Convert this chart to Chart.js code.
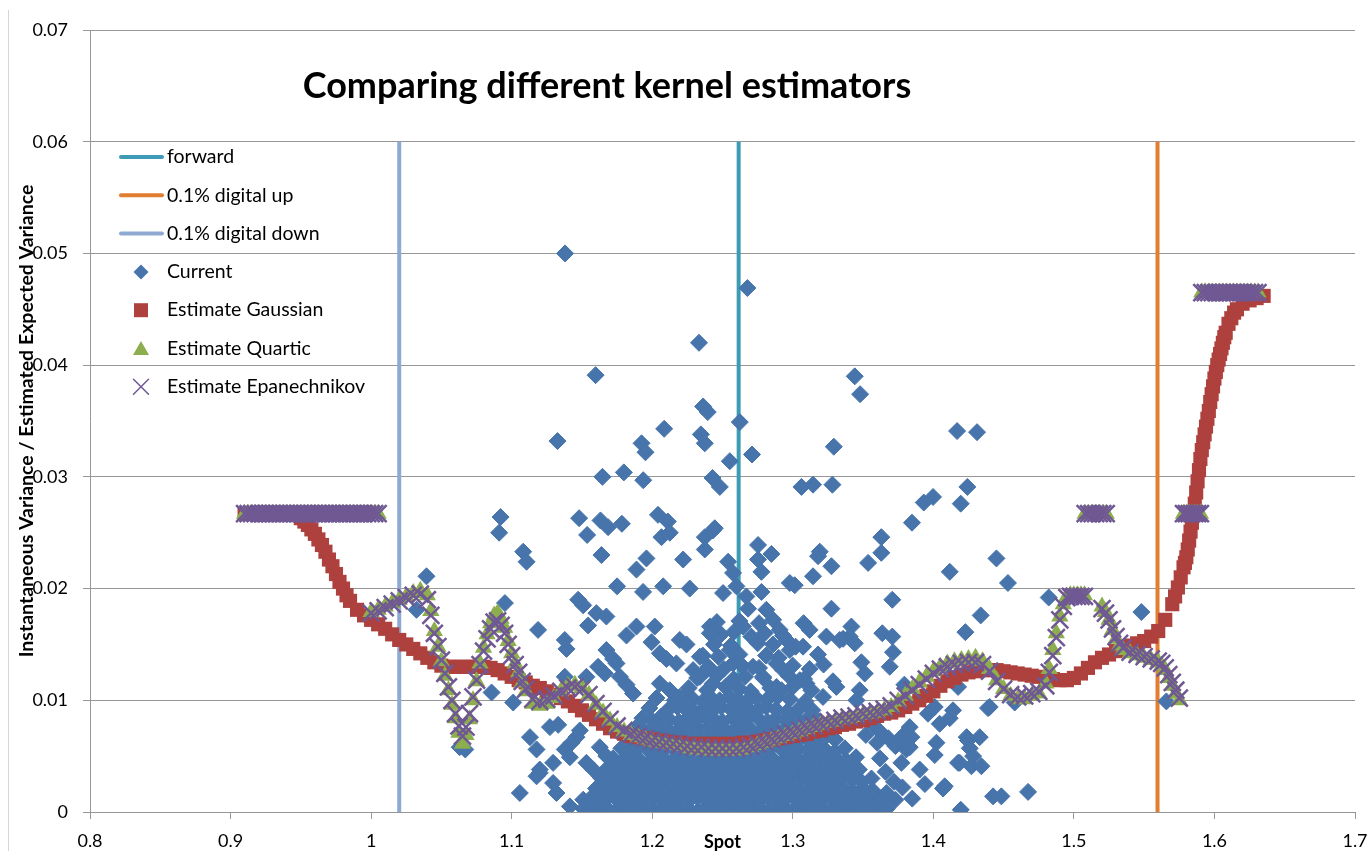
<!DOCTYPE html>
<html>
<head>
<meta charset="utf-8">
<title>Comparing different kernel estimators</title>
<script src="https://cdn.jsdelivr.net/npm/chart.js@4.4.1/dist/chart.umd.min.js"></script>
<style>
  html, body { margin: 0; padding: 0; background: #fff; overflow: hidden; }
  #wrap { width: 1371px; height: 851px; overflow: hidden; }
  canvas { display: block; }
</style>
</head>
<body>
<div id="wrap"><canvas id="chart" width="1371" height="880"></canvas></div>
<script>
/* ===== Data ===== */

const chartTitle = 'Comparing different kernel estimators';
const xTickLabels = ['0.8', '0.9', '1', '1.1', '1.2', '1.3', '1.4', '1.5', '1.6', '1.7'];
const yTickLabels = ['0', '0.01', '0.02', '0.03', '0.04', '0.05', '0.06', '0.07'];

// vertical markers
const forwardX = 1.2615;
const digitalUpX = 1.5595;
const digitalDownX = 1.0200;
const markerTop = 0.06;

// "Current" scatter: [spot, variance ratio]
const currentPoints = [
  // dense cloud, bottom rows
  [1.151,.0003],[1.157,.0001],[1.163,.0004],[1.169,.0002],[1.176,.0003],[1.182,.0001],[1.188,.0004],[1.195,.0002],[1.201,.0003],[1.207,.0001],[1.214,.0004],[1.220,.0002],[1.226,.0003],[1.233,.0001],[1.239,.0004],[1.245,.0002],[1.252,.0003],[1.258,.0001],[1.264,.0004],[1.271,.0002],[1.277,.0003],[1.283,.0001],[1.290,.0004],[1.296,.0002],[1.302,.0003],[1.309,.0001],[1.315,.0004],[1.321,.0002],[1.328,.0003],[1.334,.0001],[1.340,.0004],[1.347,.0002],[1.353,.0003],[1.360,.0001],[1.367,.0003],
  [1.156,.0012],[1.162,.0010],[1.168,.0013],[1.175,.0011],[1.181,.0009],[1.188,.0012],[1.194,.0010],[1.200,.0013],[1.207,.0011],[1.213,.0009],[1.219,.0012],[1.226,.0010],[1.232,.0013],[1.238,.0011],[1.245,.0009],[1.251,.0012],[1.257,.0010],[1.264,.0013],[1.270,.0011],[1.276,.0009],[1.283,.0012],[1.289,.0010],[1.295,.0013],[1.302,.0011],[1.308,.0009],[1.314,.0012],[1.321,.0010],[1.327,.0013],[1.333,.0011],[1.340,.0009],[1.346,.0012],[1.352,.0010],[1.359,.0013],[1.373,.0011],
  [1.160,.0021],[1.166,.0019],[1.172,.0022],[1.179,.0020],[1.185,.0018],[1.191,.0021],[1.198,.0019],[1.204,.0022],[1.210,.0020],[1.217,.0018],[1.223,.0021],[1.229,.0019],[1.236,.0022],[1.242,.0020],[1.248,.0018],[1.255,.0021],[1.261,.0019],[1.267,.0022],[1.274,.0020],[1.280,.0018],[1.286,.0021],[1.293,.0019],[1.299,.0022],[1.305,.0020],[1.312,.0018],[1.318,.0021],[1.324,.0019],[1.331,.0022],[1.337,.0020],[1.343,.0018],[1.350,.0021],[1.357,.0019],[1.378,.0022],
  [1.164,.0030],[1.171,.0028],[1.177,.0031],[1.183,.0029],[1.190,.0027],[1.196,.0030],[1.202,.0028],[1.209,.0031],[1.215,.0029],[1.221,.0027],[1.228,.0030],[1.234,.0028],[1.240,.0031],[1.247,.0029],[1.253,.0027],[1.259,.0030],[1.266,.0028],[1.272,.0031],[1.278,.0029],[1.285,.0027],[1.291,.0030],[1.297,.0028],[1.304,.0031],[1.310,.0029],[1.316,.0027],[1.323,.0030],[1.329,.0028],[1.335,.0031],[1.342,.0029],[1.349,.0027],[1.356,.0030],
  [1.168,.0039],[1.175,.0037],[1.181,.0040],[1.187,.0038],[1.194,.0036],[1.200,.0039],[1.206,.0037],[1.213,.0040],[1.219,.0038],[1.225,.0036],[1.232,.0039],[1.238,.0037],[1.244,.0040],[1.251,.0038],[1.257,.0036],[1.263,.0039],[1.270,.0037],[1.276,.0040],[1.282,.0038],[1.289,.0036],[1.295,.0039],[1.301,.0037],[1.308,.0040],[1.314,.0038],[1.320,.0036],[1.327,.0039],[1.333,.0037],[1.340,.0040],[1.347,.0038],
  [1.172,.0048],[1.179,.0046],[1.185,.0049],[1.191,.0047],[1.198,.0045],[1.204,.0048],[1.210,.0046],[1.217,.0049],[1.223,.0047],[1.229,.0045],[1.236,.0048],[1.242,.0046],[1.248,.0049],[1.255,.0047],[1.261,.0045],[1.267,.0048],[1.274,.0046],[1.280,.0049],[1.286,.0047],[1.293,.0045],[1.299,.0048],[1.305,.0046],[1.312,.0049],[1.318,.0047],[1.325,.0045],[1.331,.0048],[1.338,.0046],[1.345,.0049],
  [1.178,.0057],[1.184,.0055],[1.190,.0058],[1.197,.0056],[1.203,.0054],[1.209,.0057],[1.216,.0055],[1.222,.0058],[1.228,.0056],[1.235,.0054],[1.241,.0057],[1.247,.0055],[1.254,.0058],[1.260,.0056],[1.266,.0054],[1.273,.0057],[1.279,.0055],[1.285,.0058],[1.292,.0056],[1.298,.0054],[1.304,.0057],[1.311,.0055],[1.317,.0058],[1.323,.0056],[1.330,.0054],[1.337,.0057],
  [1.183,.0066],[1.189,.0064],[1.196,.0067],[1.202,.0065],[1.208,.0063],[1.215,.0066],[1.221,.0064],[1.227,.0067],[1.234,.0065],[1.240,.0063],[1.246,.0066],[1.253,.0064],[1.259,.0067],[1.265,.0065],[1.272,.0063],[1.278,.0066],[1.284,.0064],[1.291,.0067],[1.297,.0065],[1.303,.0063],[1.310,.0066],[1.316,.0064],[1.323,.0067],[1.330,.0065],
  [1.188,.0075],[1.194,.0073],[1.201,.0076],[1.207,.0074],[1.213,.0072],[1.220,.0075],[1.226,.0073],[1.232,.0076],[1.239,.0074],[1.245,.0072],[1.251,.0075],[1.258,.0073],[1.264,.0076],[1.270,.0074],[1.277,.0072],[1.283,.0075],[1.289,.0073],[1.296,.0076],[1.302,.0074],[1.309,.0072],[1.316,.0075],[1.324,.0073],
  [1.193,.0084],[1.200,.0082],[1.206,.0085],[1.212,.0083],[1.219,.0081],[1.225,.0084],[1.231,.0082],[1.238,.0085],[1.244,.0083],[1.250,.0081],[1.257,.0084],[1.263,.0082],[1.269,.0085],[1.276,.0083],[1.282,.0081],[1.288,.0084],[1.295,.0082],[1.302,.0085],[1.310,.0083],[1.318,.0081],
  [1.198,.0093],[1.211,.0091],[1.218,.0094],[1.224,.0092],[1.230,.0090],[1.237,.0093],[1.243,.0091],[1.249,.0094],[1.256,.0092],[1.262,.0090],[1.268,.0093],[1.275,.0091],[1.281,.0094],[1.288,.0092],[1.296,.0090],[1.305,.0093],[1.314,.0091],
  [1.203,.0102],[1.216,.0100],[1.223,.0103],[1.229,.0101],[1.236,.0099],[1.242,.0102],[1.248,.0100],[1.255,.0103],[1.261,.0101],[1.267,.0099],[1.274,.0102],[1.281,.0100],[1.289,.0103],[1.298,.0101],[1.309,.0099],
  // upper part of the cloud
  [1.226,.0111],[1.239,.0109],[1.252,.0112],[1.262,.0110],[1.270,.0108],[1.284,.0111],[1.292,.0109],[1.300,.0112],
  [1.232,.0120],[1.246,.0122],[1.258,.0119],[1.266,.0121],[1.279,.0120],[1.297,.0122],[1.308,.0119],
  [1.240,.0130],[1.251,.0128],[1.264,.0131],[1.276,.0129],[1.300,.0131],[1.312,.0128],
  [1.236,.0140],[1.247,.0139],[1.262,.0141],[1.281,.0140],[1.290,.0138],[1.318,.0141],
  [1.244,.0150],[1.256,.0149],[1.275,.0151],[1.286,.0150],[1.302,.0148],
  [1.249,.0159],[1.258,.0161],[1.280,.0160],[1.293,.0158],
  [1.246,.0170],[1.262,.0171],[1.276,.0169],
  [1.357,.0078],[1.362,.0072],[1.368,.0066],[1.373,.0059],[1.378,.0068],[1.360,.0062],[1.352,.0069],
  [1.372,.0027],[1.385,.0012],[1.394,.0025],[1.362,.0048],[1.366,.0036],
  // scattered points
  [1.1380,.0500],[1.2677,.0469],[1.2333,.0420],[1.1597,.0391],[1.3441,.0390],[1.3479,.0374],[1.2362,.0363],[1.2395,.0358],
  [1.2623,.0349],[1.2085,.0343],[1.4169,.0341],[1.4311,.0340],[1.2346,.0338],[1.1326,.0332],[1.1924,.0330],[1.2374,.0330],
  [1.3292,.0327],[1.1952,.0322],[1.2710,.0320],[1.2552,.0314],[1.1798,.0304],[1.1646,.0300],[1.2429,.0299],[1.1936,.0297],
  [1.3144,.0293],[1.3282,.0293],[1.3062,.0291],[1.2481,.0291],[1.4242,.0291],[1.3998,.0282],[1.3932,.0277],[1.4195,.0276],
  [1.2041,.0266],[1.0921,.0264],[1.1480,.0263],[1.1632,.0261],[1.2111,.0260],[1.3848,.0259],[1.1784,.0258],[1.1686,.0255],
  [1.2445,.0254],[1.2125,.0250],[1.0911,.0250],[1.1537,.0248],[1.2066,.0246],[1.2374,.0246],[1.3630,.0246],[1.2431,.0252],
  [1.2753,.0239],[1.2374,.0235],[1.1082,.0233],[1.3630,.0232],[1.3192,.0233],[1.2848,.0231],[1.1639,.0230],[1.3180,.0229],
  [1.1959,.0227],[1.4449,.0227],[1.2220,.0226],[1.2753,.0226],[1.1106,.0224],[1.2540,.0224],[1.3536,.0223],[1.3275,.0220],
  [1.1888,.0217],[1.4117,.0215],[1.2777,.0215],[1.2575,.0214],[1.3144,.0211],[1.0394,.0211],[1.2979,.0205],[1.3014,.0203],
  [1.4531,.0205],[1.1750,.0202],[1.2078,.0202],[1.2599,.0202],[1.2267,.0200],[1.1935,.0197],[1.2777,.0197],[1.2504,.0196],
  [1.2670,.0193],[1.4821,.0192],[1.3708,.0190],[1.1473,.0190],[1.0952,.0187],[1.1509,.0185],[1.2682,.0182],[1.3275,.0182],
  [1.2812,.0181],[1.0323,.0181],[1.5480,.0179],[1.1603,.0178],[1.4337,.0176],[1.1674,.0175],[1.2860,.0172],[1.3077,.0169],
  [1.1544,.0167],[1.1888,.0166],[1.2018,.0166],[1.2410,.0166],[1.2646,.0166],[1.3417,.0166],[1.1188,.0163],[1.2907,.0163],
  [1.3120,.0163],[1.4228,.0161],[1.3637,.0160],[1.2410,.0160],[1.1817,.0158],[1.2705,.0157],[1.3239,.0157],[1.3405,.0157],
  [1.3708,.0157],[1.3358,.0155],[1.1378,.0154],[1.2196,.0154],[1.2955,.0154],[1.3334,.0154],[1.1995,.0152],[1.3441,.0151],
  [1.2244,.0150],[1.3073,.0148],[1.1390,.0146],[1.1674,.0145],[1.2552,.0145],[1.2979,.0145],[1.2054,.0142],[1.3713,.0143],
  [1.2339,.0139],[1.1722,.0137],[1.2101,.0137],[1.3488,.0134],[1.1746,.0133],[1.2172,.0133],[1.2575,.0133],[1.2884,.0133],
  [1.3219,.0132],[1.1615,.0130],[1.2717,.0130],[1.3690,.0130],[1.2386,.0127],[1.2291,.0127],[1.2931,.0127],[1.1663,.0124],
  [1.3512,.0124],[1.1378,.0121],[1.1532,.0121],[1.1770,.0121],[1.2339,.0121],[1.2788,.0121],[1.3050,.0118],[1.3286,.0117],
  [1.2054,.0115],[1.2431,.0115],[1.3097,.0115],[1.1817,.0114],[1.3794,.0114],[1.3310,.0112],[1.2884,.0112],[1.4176,.0112],
  [1.2125,.0109],[1.3132,.0109],[1.3476,.0109],[1.0857,.0107],[1.1864,.0106],[1.2196,.0103],[1.3215,.0103],[1.3453,.0100],
  [1.1011,.0098],[1.4579,.0098],[1.4010,.0094],[1.4401,.0094],[1.4140,.0091],[1.4389,.0093],[1.3962,.0088],[1.4117,.0084],
  [1.4045,.0079],[1.3832,.0076],[1.1272,.0076],[1.1331,.0078],[1.1485,.0073],[1.1130,.0067],[1.1461,.0067],[1.3844,.0067],
  [1.4237,.0067],[1.4330,.0067],[1.1426,.0062],[1.4022,.0062],[1.4247,.0064],[1.0630,.0058],[1.0670,.0056],[1.1177,.0056],
  [1.1378,.0056],[1.1627,.0058],[1.3808,.0056],[1.3832,.0058],[1.4259,.0057],[1.4010,.0051],[1.1674,.0050],[1.4283,.0050],
  [1.1414,.0049],[1.1295,.0044],[1.1532,.0044],[1.3773,.0044],[1.4176,.0044],[1.4188,.0044],[1.4271,.0041],[1.4342,.0041],
  [1.1200,.0038],[1.1580,.0038],[1.3903,.0038],[1.1200,.0035],[1.1177,.0032],[1.1627,.0032],[1.1295,.0026],[1.4069,.0021],
  [1.4081,.0023],[1.1058,.0017],[1.1319,.0017],[1.3666,.0017],[1.4674,.0018],[1.4425,.0014],[1.4484,.0014],[1.1509,.0011],
  [1.3630,.0011],[1.1414,.0005],[1.1580,.0005],[1.3548,.0005],[1.4195,.0002],[1.5658,.0099]
];

// Gaussian kernel estimate: [spot, value]
const gaussianPoints = [
  [0.910,.0267],[0.915,.0267],[0.920,.0267],[0.925,.0267],[0.930,.0267],[0.935,.0267],[0.940,.0267],[0.945,.0266],
  [0.950,.0263],[0.9525,.0260],[0.955,.0257],[0.9575,.0253],[0.960,.0249],[0.9625,.0244],[0.965,.0239],[0.9675,.0233],
  [0.970,.0226],[0.9725,.0220],[0.975,.0213],[0.9775,.0206],[0.980,.0200],[0.9825,.0194],[0.985,.0189],[0.990,.0181],
  [0.995,.0176],[1.000,.0172],[1.005,.0168],[1.010,.0164],[1.015,.0159],[1.020,.0154],[1.025,.0150],[1.030,.0146],
  [1.035,.0142],[1.040,.0138],[1.045,.0134],[1.050,.0131],[1.055,.0130],[1.060,.0130],[1.065,.0130],[1.070,.0130],
  [1.075,.0130],[1.080,.0130],[1.085,.0129],[1.090,.0127],[1.095,.0124],[1.100,.0121],[1.105,.0118],[1.110,.0116],
  [1.115,.0113],[1.120,.0111],[1.125,.0108],[1.130,.0105],[1.135,.0102],[1.140,.0099],[1.145,.0095],[1.150,.0091],
  [1.155,.0087],[1.160,.0083],[1.165,.0079],[1.170,.0075],[1.175,.0072],[1.180,.0070],[1.185,.0068],[1.190,.0067],
  [1.195,.0066],[1.200,.0065],[1.205,.0064],[1.210,.0063],[1.215,.0062],[1.220,.0062],[1.225,.0061],[1.230,.0061],
  [1.235,.0061],[1.240,.0061],[1.245,.0061],[1.250,.0061],[1.255,.0061],[1.260,.0061],[1.265,.0062],[1.270,.0062],
  [1.275,.0063],[1.280,.0064],[1.285,.0065],[1.290,.0066],[1.295,.0067],[1.300,.0068],[1.305,.0069],[1.310,.0070],
  [1.315,.0072],[1.320,.0073],[1.325,.0075],[1.330,.0076],[1.335,.0078],[1.340,.0079],[1.345,.0081],[1.350,.0082],
  [1.355,.0084],[1.360,.0086],[1.365,.0088],[1.370,.0089],[1.375,.0091],[1.380,.0094],[1.385,.0097],[1.390,.0100],
  [1.395,.0104],[1.400,.0108],[1.405,.0113],[1.410,.0117],[1.415,.0120],[1.420,.0123],[1.425,.0125],[1.430,.0126],
  [1.435,.0127],[1.440,.0127],[1.445,.0127],[1.450,.0126],[1.455,.0125],[1.460,.0124],[1.465,.0123],[1.470,.0122],
  [1.475,.0121],[1.480,.0120],[1.485,.0119],[1.490,.0118],[1.495,.0118],[1.500,.0120],[1.505,.0124],[1.510,.0129],
  [1.515,.0134],[1.520,.0138],[1.525,.0141],[1.530,.0144],[1.535,.0146],[1.540,.0149],[1.545,.0151],[1.550,.0153],
  [1.555,.0157],[1.560,.0162],[1.565,.0172],[1.570,.0186],[1.572,.0193],[1.574,.0201],[1.576,.0210],[1.578,.0219],
  [1.579,.0223],[1.580,.0228],[1.581,.0235],[1.582,.0243],[1.583,.0251],[1.584,.0259],[1.585,.0267],[1.586,.0276],
  [1.587,.0286],[1.588,.0296],[1.589,.0306],[1.590,.0316],[1.591,.0324],[1.592,.0331],[1.593,.0338],[1.594,.0345],
  [1.595,.0352],[1.596,.0359],[1.597,.0367],[1.598,.0374],[1.599,.0381],[1.600,.0388],[1.601,.0394],[1.602,.0400],
  [1.603,.0405],[1.604,.0410],[1.605,.0415],[1.606,.0420],[1.607,.0425],[1.608,.0429],[1.610,.0437],[1.612,.0442],
  [1.614,.0447],[1.616,.0450],[1.620,.0455],[1.625,.0458],[1.630,.0460],[1.635,.0462]
];

// Quartic and Epanechnikov estimates share the same spot grid
const kernelX = [
  0.9100,0.9125,0.9150,0.9175,0.9200,0.9225,0.9250,0.9275,0.9300,0.9325,0.9350,0.9375,0.9400,0.9425,0.9450,0.9475,0.9500,
  0.9525,0.9550,0.9575,0.9600,0.9625,0.9650,0.9675,0.9700,0.9725,0.9750,0.9775,0.9800,0.9825,0.9850,0.9875,0.9900,
  0.9925,0.9950,0.9975,1.0000,1.0025,1.0050,
  1.000,1.005,1.010,1.015,1.020,1.025,1.030,1.035,
  1.0400,1.0425,1.0450,1.0475,1.0500,1.0525,1.0550,1.0575,1.0600,1.0625,1.0650,1.0675,1.0700,1.0725,1.0750,
  1.0775,1.0800,1.0825,1.0850,1.0875,1.0900,1.0925,1.0950,1.0975,1.1000,1.1025,1.1050,1.1075,1.1100,
  1.115,1.120,1.125,1.130,1.135,1.140,1.145,1.150,1.155,1.160,
  1.165,1.170,1.175,1.180,1.185,1.190,1.195,1.200,1.205,1.210,
  1.215,1.220,1.225,1.230,1.235,1.240,1.245,1.250,1.255,1.260,
  1.265,1.270,1.275,1.280,1.285,1.290,1.295,1.300,1.305,1.310,
  1.315,1.320,1.325,1.330,1.335,1.340,1.345,1.350,1.355,1.360,
  1.365,1.370,1.375,1.380,1.385,1.390,1.395,1.400,1.405,1.410,
  1.415,1.420,1.425,1.430,1.435,1.440,1.445,1.450,1.455,1.460,
  1.465,1.470,1.475,
  1.4800,1.4825,1.4850,1.4875,1.4900,1.4925,1.4950,1.4975,1.5000,1.5025,1.5050,1.5075,
  1.5080,1.5105,1.5130,1.5155,1.5180,1.5205,1.5230,
  1.5200,1.5225,1.5250,1.5275,1.5300,1.5325,1.5350,1.5400,1.5450,1.5500,1.5550,1.5600,1.5625,1.5650,1.5675,1.5700,1.5725,1.5750,
  1.5780,1.5800,1.5820,1.5840,1.5860,1.5880,1.5900,
  1.5910,1.5935,1.5960,1.5985,1.6010,1.6035,1.6060,1.6085,1.6110,1.6135,1.6160,1.6185,1.6210,1.6235,1.6260,1.6285,1.6310
];
const quarticY = [
  .0267,.0267,.0267,.0267,.0267,.0267,.0267,.0267,.0267,.0267,.0267,.0267,.0267,.0267,.0267,.0267,.0267,
  .0267,.0267,.0267,.0267,.0267,.0267,.0267,.0267,.0267,.0267,.0267,.0267,.0267,.0267,.0267,.0267,
  .0267,.0267,.0267,.0267,.0267,.0267,
  .0179,.0181,.0184,.0187,.0190,.0193,.0196,.0198,
  .0194,.0180,.0162,.0148,.0135,.0122,.0109,.0096,.0084,.0071,.0061,.0069,.0083,.0100,.0117,
  .0133,.0147,.0159,.0169,.0176,.0178,.0173,.0165,.0153,.0142,.0133,.0125,.0116,.0108,
  .0097,.0095,.0097,.0102,.0108,.0113,.0114,.0111,.0105,.0096,
  .0089,.0082,.0076,.0072,.0069,.0067,.0065,.0063,.0062,.0061,
  .0060,.0059,.0057,.0056,.0056,.0055,.0055,.0055,.0055,.0055,
  .0056,.0058,.0060,.0062,.0064,.0066,.0068,.0070,.0072,.0074,
  .0076,.0078,.0080,.0081,.0083,.0084,.0085,.0087,.0088,.0089,
  .0091,.0094,.0099,.0104,.0110,.0116,.0121,.0126,.0130,.0133,
  .0135,.0136,.0137,.0138,.0135,.0128,.0118,.0110,.0104,.0101,
  .0101,.0104,.0106,
  .0115,.0128,.0145,.0160,.0175,.0186,.0193,.0194,.0194,.0194,.0194,.0194,
  .0267,.0267,.0267,.0267,.0267,.0267,.0267,
  .0184,.0179,.0172,.0163,.0155,.0149,.0145,.0142,.0140,.0138,.0136,.0134,.0131,.0127,.0120,.0113,.0106,.0100,
  .0267,.0267,.0267,.0267,.0267,.0267,.0267,
  .0465,.0465,.0465,.0465,.0465,.0465,.0465,.0465,.0465,.0465,.0465,.0465,.0465,.0465,.0465,.0465,.0465
];
const epanY = [
  .0267,.0267,.0267,.0267,.0267,.0267,.0267,.0267,.0267,.0267,.0267,.0267,.0267,.0267,.0267,.0267,.0267,
  .0267,.0267,.0267,.0267,.0267,.0267,.0267,.0267,.0267,.0267,.0267,.0267,.0267,.0267,.0267,.0267,
  .0267,.0267,.0267,.0267,.0267,.0267,
  .0178,.0180,.0183,.0186,.0189,.0192,.0194,.0195,
  .0190,.0176,.0160,.0148,.0136,.0124,.0112,.0100,.0088,.0077,.0068,.0076,.0088,.0103,.0118,
  .0132,.0144,.0155,.0164,.0170,.0171,.0167,.0160,.0150,.0140,.0132,.0125,.0117,.0110,
  .0101,.0099,.0101,.0104,.0108,.0111,.0112,.0110,.0105,.0097,
  .0090,.0083,.0077,.0073,.0070,.0068,.0066,.0064,.0063,.0062,
  .0061,.0060,.0059,.0058,.0058,.0057,.0057,.0057,.0057,.0057,
  .0058,.0059,.0061,.0063,.0065,.0067,.0069,.0071,.0073,.0075,
  .0077,.0079,.0081,.0082,.0084,.0085,.0086,.0088,.0089,.0090,
  .0092,.0095,.0100,.0104,.0109,.0114,.0119,.0124,.0128,.0130,
  .0132,.0133,.0134,.0134,.0132,.0126,.0117,.0110,.0105,.0103,
  .0104,.0106,.0108,
  .0113,.0125,.0140,.0156,.0172,.0184,.0192,.0193,.0193,.0193,.0193,.0193,
  .0267,.0267,.0267,.0267,.0267,.0267,.0267,
  .0182,.0178,.0172,.0164,.0157,.0151,.0147,.0143,.0141,.0139,.0137,.0135,.0133,.0129,.0123,.0116,.0109,.0102,
  .0267,.0267,.0267,.0267,.0267,.0267,.0267,
  .0465,.0465,.0465,.0465,.0465,.0465,.0465,.0465,.0465,.0465,.0465,.0465,.0465,.0465,.0465,.0465,.0465
];

/* ===== Styling ===== */

const FONT = 'Lato, "Open Sans", "DejaVu Sans", sans-serif';
const GRID = '#979797';
const COLORS = {
  forward: '#3E9BB6',
  up: '#E27E32',
  down: '#8FAAD2',
  current: '#4674AB',
  gauss: '#AE403D',
  quartic: '#8DAE4E',
  epan: '#6F5893'
};

const toXY = pts => pts.map(p => ({ x: p[0], y: p[1] }));
const vLine = x => [{ x, y: 0 }, { x, y: markerTop }];

function lineSet(label, x, color) {
  return {
    label, data: vLine(x), showLine: true, borderColor: color, borderWidth: 4,
    pointRadius: 0, order: 10, legendKind: 'line'
  };
}

function pointSet(label, data, color, style, radius, order, borderWidth) {
  return {
    label, data, showLine: false, pointStyle: style, pointRadius: radius,
    backgroundColor: color, borderColor: color, pointBorderWidth: borderWidth,
    order, legendKind: style
  };
}

const datasets = [
  lineSet('forward', forwardX, COLORS.forward),
  lineSet('0.1% digital up', digitalUpX, COLORS.up),
  lineSet('0.1% digital down', digitalDownX, COLORS.down),
  pointSet('Current', toXY(currentPoints), COLORS.current, 'rectRot', 8.5, 4, 1),
  pointSet('Estimate Gaussian', toXY(gaussianPoints), COLORS.gauss, 'rect', 10, 3, 0),
  pointSet('Estimate Quartic', kernelX.map((x, i) => ({ x, y: quarticY[i] })), COLORS.quartic, 'triangle', 10, 2, 0),
  pointSet('Estimate Epanechnikov', kernelX.map((x, i) => ({ x, y: epanY[i] })), COLORS.epan, 'crossRot', 12, 1, 2.5)
];

// legend marker drawing (legend sits inside the plot area)
function drawMarker(ctx, kind, x, y, color) {
  ctx.fillStyle = color;
  ctx.strokeStyle = color;
  ctx.beginPath();
  if (kind === 'rectRot') {
    ctx.moveTo(x, y - 7.5); ctx.lineTo(x + 7.5, y); ctx.lineTo(x, y + 7.5); ctx.lineTo(x - 7.5, y);
    ctx.closePath(); ctx.fill();
  } else if (kind === 'rect') {
    ctx.rect(x - 7, y - 7, 14, 14); ctx.fill();
  } else if (kind === 'triangle') {
    ctx.moveTo(x, y - 7.5); ctx.lineTo(x + 8, y + 6.5); ctx.lineTo(x - 8, y + 6.5);
    ctx.closePath(); ctx.fill();
  } else if (kind === 'crossRot') {
    ctx.lineWidth = 1.5;
    ctx.moveTo(x - 7.5, y - 7.5); ctx.lineTo(x + 7.5, y + 7.5);
    ctx.moveTo(x + 7.5, y - 7.5); ctx.lineTo(x - 7.5, y + 7.5);
    ctx.stroke();
  }
}

const overlayPlugin = {
  id: 'overlay',
  afterDraw(chart) {
    const { ctx } = chart;
    ctx.save();

    // outer chart frame, only its left edge is inside the crop
    ctx.strokeStyle = '#D6D6D6';
    ctx.lineWidth = 1;
    ctx.beginPath();
    ctx.moveTo(8.5, 10);
    ctx.lineTo(8.5, 880);
    ctx.stroke();

    // title inside the plot
    ctx.fillStyle = '#000';
    ctx.font = 'bold 36px ' + FONT;
    ctx.textAlign = 'center';
    ctx.textBaseline = 'middle';
    ctx.fillText(chartTitle, 607, 86);

    // legend
    ctx.font = '19.5px ' + FONT;
    ctx.textAlign = 'left';
    chart.data.datasets.forEach((ds, i) => {
      const y = 157 + i * 38.3;
      if (ds.legendKind === 'line') {
        ctx.strokeStyle = ds.borderColor;
        ctx.lineWidth = 4;
        ctx.lineCap = 'round';
        ctx.beginPath();
        ctx.moveTo(121, y);
        ctx.lineTo(162, y);
        ctx.stroke();
      } else {
        drawMarker(ctx, ds.legendKind, 141, y, ds.backgroundColor);
      }
      ctx.fillStyle = '#000';
      ctx.fillText(ds.label, 167, y);
    });

    ctx.restore();
  }
};

Chart.defaults.font.family = FONT;
Chart.defaults.color = '#000';

new Chart(document.getElementById('chart'), {
  type: 'scatter',
  data: { datasets },
  options: {
    responsive: false,
    animation: false,
    devicePixelRatio: 1,
    events: [],
    layout: { padding: { top: 30, right: 16, left: 0, bottom: 0 } },
    plugins: {
      legend: { display: false },
      tooltip: { enabled: false }
    },
    scales: {
      x: {
        type: 'linear',
        min: 0.8,
        max: 1.7,
        afterFit: s => {
          s.height = 68;
          // let the layout padding alone decide the right edge
          s.paddingLeft = 0;
          s.paddingRight = 0;
        },
        ticks: {
          stepSize: 0.1,
          autoSkip: false,
          maxRotation: 0,
          padding: 11,
          color: '#000',
          font: { size: 18 },
          callback: (v, i) => xTickLabels[i]
        },
        grid: { drawOnChartArea: false, drawTicks: true, tickLength: 7, color: GRID },
        border: { color: GRID },
        title: {
          display: true,
          text: 'Spot',
          color: '#000',
          font: { size: 18, weight: 'bold' },
          padding: { top: 0, bottom: 27 }
        }
      },
      y: {
        min: 0,
        max: 0.07,
        afterFit: s => { s.width = 90; },
        ticks: {
          stepSize: 0.01,
          padding: 15,
          color: '#000',
          font: { size: 18 },
          callback: (v, i) => yTickLabels[i]
        },
        grid: { drawTicks: true, tickLength: 7, color: GRID },
        border: { color: GRID },
        title: {
          display: true,
          text: 'Instantaneous Variance / Estimated Expected Variance',
          color: '#000',
          font: { size: 19.5, weight: 'bold' },
          padding: { top: 15, bottom: 0 }
        }
      }
    }
  },
  plugins: [overlayPlugin]
});
</script>
</body>
</html>
